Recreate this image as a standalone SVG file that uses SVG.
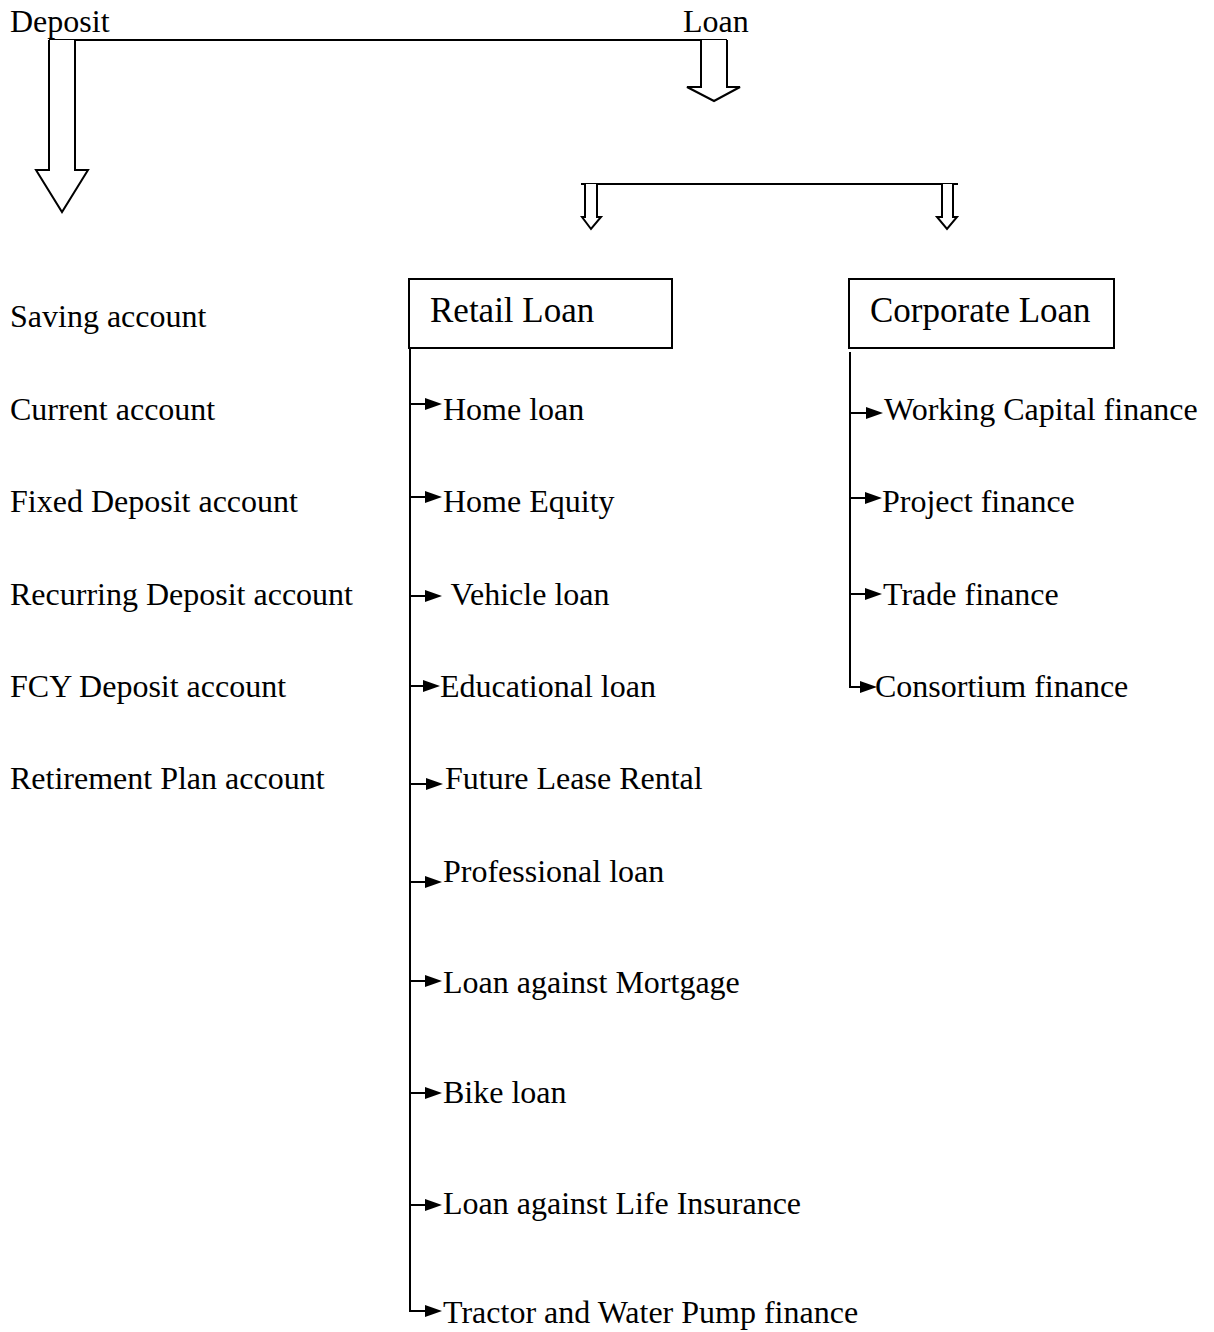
<svg xmlns="http://www.w3.org/2000/svg" xmlns:xlink="http://www.w3.org/1999/xlink" width="1214" height="1332" viewBox="0 0 1214 1332">
<style>
text{font-family:"Liberation Serif","Times New Roman",serif;fill:#000;font-size:32px}
.box text{font-size:35px}
.box rect{fill:#fff;stroke:#000;stroke-width:2}
.ln{fill:none;stroke:#000;stroke-width:2}
.big{fill:#fff;stroke:#000;stroke-width:2;stroke-linejoin:miter}
.hd{fill:#000}
</style>
<defs>
<polygon id="hd" points="-17,-6 0,0 -17,6"/>
</defs>
<g id="deposit"><text x="10" y="32">Deposit</text></g>
<g id="loan"><text x="683" y="32">Loan</text></g>
<g id="deposit-items">
<text x="10" y="327">Saving account</text>
<text x="10" y="420">Current account</text>
<text x="10" y="512">Fixed Deposit account</text>
<text x="10" y="605">Recurring Deposit account</text>
<text x="10" y="697">FCY Deposit account</text>
<text x="10" y="789">Retirement Plan account</text>
</g>
<g id="retail" class="box"><rect x="409" y="279" width="263" height="69"/><text x="430" y="322">Retail Loan</text></g>
<g id="corporate" class="box"><rect x="849" y="279" width="265" height="69"/><text x="870" y="322">Corporate Loan</text></g>
<g id="retail-items">
<text x="443" y="420">Home loan</text>
<text x="443" y="512">Home Equity</text>
<text x="443" y="605" xml:space="preserve"> Vehicle loan</text>
<text x="440" y="697">Educational loan</text>
<text x="445" y="789">Future Lease Rental</text>
<text x="443" y="882">Professional loan</text>
<text x="443" y="993">Loan against Mortgage</text>
<text x="443" y="1103">Bike loan</text>
<text x="443" y="1214">Loan against Life Insurance</text>
<text x="443" y="1323">Tractor and Water Pump finance</text>
</g>
<g id="corporate-items">
<text x="884" y="420">Working Capital finance</text>
<text x="882" y="512">Project finance</text>
<text x="883" y="605">Trade finance</text>
<text x="875" y="697">Consortium finance</text>
</g>
<g id="connectors">
<path class="ln" d="M49,40 H727"/>
<path class="big" d="M49,40 V170 H36 L62,212 L88,170 H75 V40"/>
<path class="big" d="M701,40 V87 H687 L714,101 L740,87 H727 V40"/>
<path class="ln" d="M581,184 H958"/>
<path class="big" d="M585,184 V217 H582 L591,229 L601,217 H597 V184"/>
<path class="big" d="M942,184 V217 H937 L947,229 L957,217 H953 V184"/>
<path class="ln" d="M410,348 V1311 H430"/>
<path class="ln" d="M410,404 H430"/>
<path class="ln" d="M410,497 H430"/>
<path class="ln" d="M410,596 H430"/>
<path class="ln" d="M410,686 H428"/>
<path class="ln" d="M410,784 H431"/>
<path class="ln" d="M410,882 H430"/>
<path class="ln" d="M410,981 H430"/>
<path class="ln" d="M410,1093 H430"/>
<path class="ln" d="M410,1205 H430"/>
<path class="ln" d="M850,352 V687 H865"/>
<path class="ln" d="M850,413 H871"/>
<path class="ln" d="M850,498 H870"/>
<path class="ln" d="M850,594 H870"/>
<use xlink:href="#hd" href="#hd" class="hd" x="442" y="1311"/>
<use xlink:href="#hd" href="#hd" class="hd" x="442" y="404"/>
<use xlink:href="#hd" href="#hd" class="hd" x="442" y="497"/>
<use xlink:href="#hd" href="#hd" class="hd" x="442" y="596"/>
<use xlink:href="#hd" href="#hd" class="hd" x="440" y="686"/>
<use xlink:href="#hd" href="#hd" class="hd" x="443" y="784"/>
<use xlink:href="#hd" href="#hd" class="hd" x="442" y="882"/>
<use xlink:href="#hd" href="#hd" class="hd" x="442" y="981"/>
<use xlink:href="#hd" href="#hd" class="hd" x="442" y="1093"/>
<use xlink:href="#hd" href="#hd" class="hd" x="442" y="1205"/>
<use xlink:href="#hd" href="#hd" class="hd" x="877" y="687"/>
<use xlink:href="#hd" href="#hd" class="hd" x="883" y="413"/>
<use xlink:href="#hd" href="#hd" class="hd" x="882" y="498"/>
<use xlink:href="#hd" href="#hd" class="hd" x="882" y="594"/>
</g>
</svg>
